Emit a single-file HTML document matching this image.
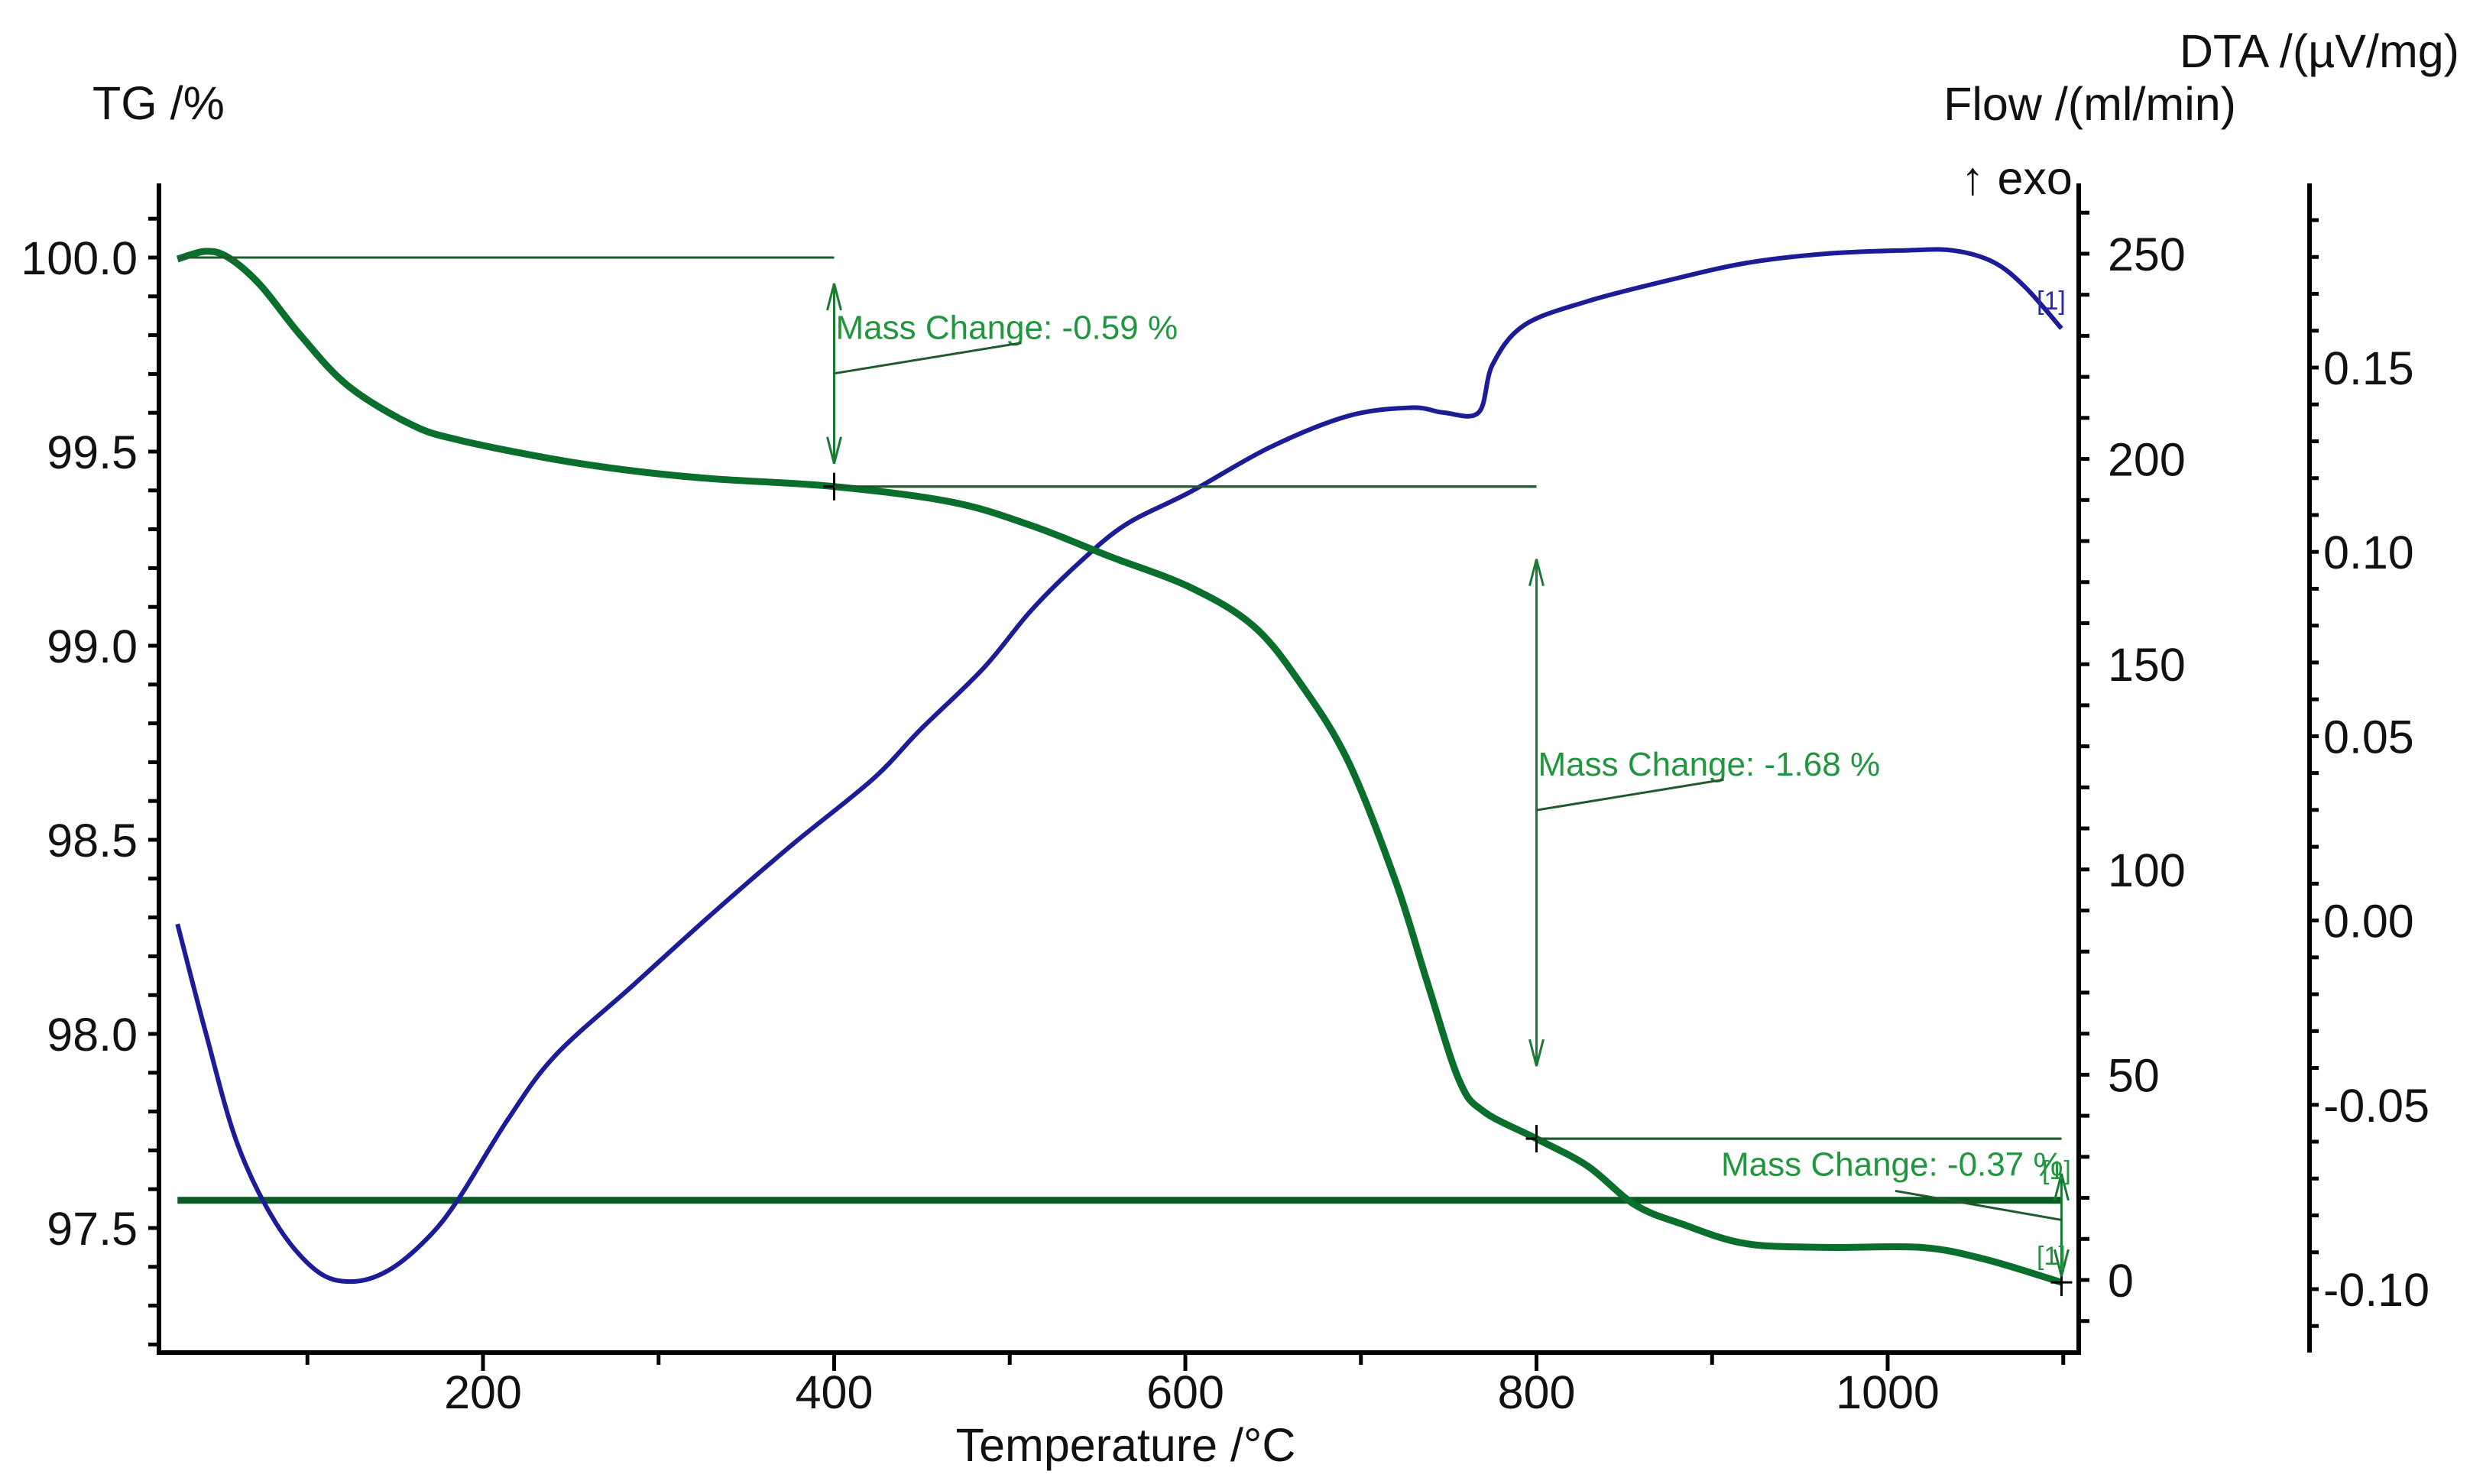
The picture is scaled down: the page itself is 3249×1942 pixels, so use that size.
<!DOCTYPE html>
<html><head><meta charset="utf-8"><style>
html,body{margin:0;padding:0;background:#fff;}
svg{display:block;font-family:"Liberation Sans",Arial,sans-serif;}
</style></head><body>
<svg id="chart" width="3249" height="1942" viewBox="0 0 3249 1942" xmlns="http://www.w3.org/2000/svg">
<g id="axes"></g>
<g id="marks"></g>
<g id="annot"></g>
<text x="121" y="156" font-size="61" fill="#111">TG /%</text>
<text x="3218" y="88" font-size="61" fill="#111" text-anchor="end">DTA /(µV/mg)</text>
<text x="2926" y="157" font-size="61" fill="#111" text-anchor="end">Flow /(ml/min)</text>
<text x="2566" y="254" font-size="61" fill="#111">↑ exo</text>
<text x="1473" y="1912" font-size="61" fill="#111" text-anchor="middle">Temperature /°C</text>
</svg>
<script>
// ---- data ----
const tgTemps = [26,42,55,73,96,123,159,186,241,286,331,400,467,512,557,603,639,666,693,720,738,756,770,800,829,856,883,919,965,1019,1055,1099];
const tgValues = [99.996,100.016,100.0,99.93,99.80,99.67,99.57,99.53,99.48,99.45,99.43,99.41,99.37,99.31,99.23,99.15,99.05,98.90,98.70,98.39,98.13,97.88,97.80,97.73,97.66,97.56,97.51,97.46,97.45,97.45,97.42,97.36];
const flowTemps = [26,42,60,82,105,125,146,168,186,214,241,286,331,376,422,449,485,512,539,566,603,648,693,729,747,767,775,793,829,874,919,965,1010,1037,1060,1078,1099];
const flowValues = [86.7,60.4,33.3,13.9,2.3,-0.4,2.3,10,19.7,39,54.6,72,89.4,106,122,134,149,163,174.5,184,192,202.8,210.5,212.5,211.3,211.3,223,232.6,238.4,243.4,247.7,250,250.8,250.8,248,242,231.8];
const baselineFlow = [19.4];
const baselineRange = [26,1099];
const xTicks = [200,400,600,800,1000];
const tgTicks = [100.0,99.5,99.0,98.5,98.0,97.5];
const flowTicks = [250,200,150,100,50,0];
const dtaTicks = [0.15,0.10,0.05,0.00,-0.05,-0.10];
const steps = [[26,400,100.0,99.41,"Mass Change: -0.59 %"],[400,800,99.41,97.73,"Mass Change: -1.68 %"],[800,1099,97.73,97.36,"Mass Change: -0.37 %"]];

// ---- scales ----
const L=208,R=2720,T=240,B=1770,D=3022;
const sx=t=>172.5+t*2.2975;
const sTG=v=>337+(100-v)*508;
const sF=v=>1675-v*5.372;
const sD=v=>1687-(v+0.10)*4824;
const NS="http://www.w3.org/2000/svg";
function mk(tag,attrs,parent){const e=document.createElementNS(NS,tag);for(const k in attrs)e.setAttribute(k,attrs[k]);parent.appendChild(e);return e;}
const ax=document.getElementById('axes'),mg=document.getElementById('marks'),an=document.getElementById('annot');

let e;
e=mk('path',{d:`M${L},${T}V${B}H${R}V${T}`,fill:'none',stroke:'#000','stroke-width':6},ax);


e=mk('line',{x1:D,y1:T,x2:D,y2:B,stroke:'#000','stroke-width':6},ax);


for(let t=100;t<=1100;t+=100){const x=sx(t);if(x>R)continue;mk('line',{x1:x,y1:B,x2:x,y2:B+(t%200===0?24:16),stroke:'#000','stroke-width':5},ax);}
xTicks.forEach(t=>{e=mk('text',{x:sx(t),y:1843,'font-size':61,'text-anchor':'middle',fill:'#111'},ax);e.textContent=t;

});
for(let v=97.2;v<=100.21;v+=0.1){const y=sTG(v);if(y<T||y>B)continue;mk('line',{x1:L-14,y1:y,x2:L,y2:y,stroke:'#000','stroke-width':5},ax);}
tgTicks.forEach(v=>{e=mk('text',{x:180,y:sTG(v)+22,'font-size':61,'text-anchor':'end',fill:'#111'},ax);e.textContent=v.toFixed(1);

});
for(let v=-10;v<=270;v+=10){const y=sF(v);if(y<T||y>B)continue;mk('line',{x1:R,y1:y,x2:R+14,y2:y,stroke:'#000','stroke-width':5},ax);}
flowTicks.forEach(v=>{e=mk('text',{x:2758,y:sF(v)+22,'font-size':61,fill:'#111'},ax);e.textContent=v;

});
for(let i=-12;i<=19;i++){const v=i/100;const y=sD(v);if(y<T||y>B)continue;mk('line',{x1:D,y1:y,x2:D+12,y2:y,stroke:'#000','stroke-width':5},ax);}
dtaTicks.forEach(v=>{e=mk('text',{x:3040,y:sD(v)+22,'font-size':61,fill:'#111'},ax);e.textContent=v.toFixed(2);

});

function smooth(pts){let d=`M${pts[0][0]},${pts[0][1]}`;for(let i=0;i<pts.length-1;i++){const p0=pts[Math.max(0,i-1)],p1=pts[i],p2=pts[i+1],p3=pts[Math.min(pts.length-1,i+2)];d+=`C${p1[0]+(p2[0]-p0[0])/6},${p1[1]+(p2[1]-p0[1])/6} ${p2[0]-(p3[0]-p1[0])/6},${p2[1]-(p3[1]-p1[1])/6} ${p2[0]},${p2[1]}`;}return d;}
e=mk('line',{x1:sx(baselineRange[0]),y1:sF(baselineFlow[0]),x2:sx(baselineRange[1]),y2:sF(baselineFlow[0]),stroke:'#0a5a22','stroke-width':9},mg);


e=mk('path',{d:smooth(flowTemps.map((t,i)=>[sx(t),sF(flowValues[i])])),fill:'none',stroke:'#1c1c96','stroke-width':6},mg);


e=mk('path',{d:smooth(tgTemps.map((t,i)=>[sx(t),sTG(tgValues[i])])),fill:'none',stroke:'#0a6e2c','stroke-width':9},mg);



const ac='#1a7a34';
steps.forEach((s,i)=>{
  const [t0,t1,v0,v1,label]=s;
  const y0=sTG(v0),y1=sTG(v1),xa=sx(t1);
  mk('line',{x1:sx(t0),y1:y0,x2:xa,y2:y0,stroke:'#1f5a2c','stroke-width':3},an);
  mk('line',{x1:sx(t1),y1:y1,x2:(i<2?sx(steps[i+1][1]):sx(t1)),y2:y1,stroke:'#1f5a2c','stroke-width':3},an);
  mk('path',{d:`M${xa-14},${y1}H${xa+14}M${xa},${y1-18}V${y1+18}`,stroke:'#000','stroke-width':3},an);
  const top=i==2?sTG(97.64):y0+(i==0?34:95), bot=i==2?y1-8:y1-(i==0?30:95);
  mk('path',{d:`M${xa},${top}V${bot}M${xa-9},${top+35}L${xa},${top}L${xa+9},${top+35}M${xa-9},${bot-35}L${xa},${bot}L${xa+9},${bot-35}`,fill:'none',stroke:ac,'stroke-width':3},an);
  const tx=i==2?2252:xa+2, ty=i==0?sTG(99.79):(i==1?sTG(98.665):sTG(97.635));
  e=mk('text',{x:tx,y:ty,'font-size':44,fill:'#22963e'},an);e.textContent=label;
  
  
  const lx=i==2?2480:xa, ly=ty+(i==2?20:45);
  mk('line',{x1:lx,y1:ly,x2:i==2?sx(t1):lx+245,y2:i==2?ly+38:ly-40,stroke:'#1f5a2c','stroke-width':3},an);
});
const tags=[[2665,405,'#2a2ab0'],[2665,1655,'#22963e'],[2672,1543,'#22963e']];
tags.forEach(p=>{e=mk('text',{x:p[0],y:p[1],'font-size':34,fill:p[2]},an);e.textContent='[1]';

});
</script>
</body></html>
